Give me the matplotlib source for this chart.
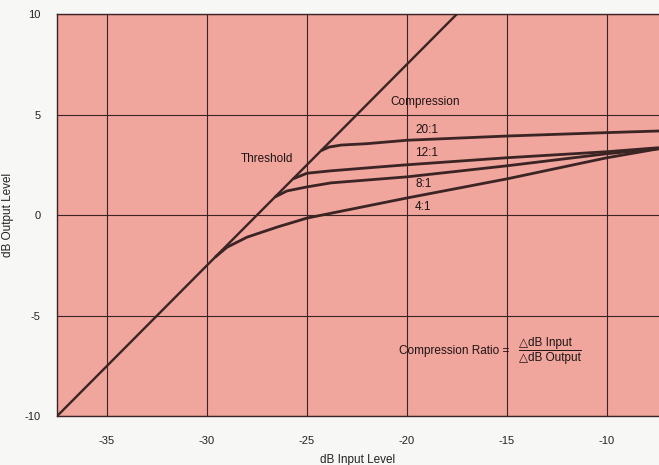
import matplotlib
matplotlib.use('Agg')
import matplotlib.pyplot as plt

plt.rcParams['font.family'] = ['Liberation Sans', 'DejaVu Sans']
plt.rcParams['axes.unicode_minus'] = False

BG = '#f0a59d'
INK = '#3a2424'
TXT = '#1e1414'

# straight 1:1 line (below threshold)
unity_x = [-37.5, -17.5]
unity_y = [-10.0, 10.0]

# compression curves
ratio_4_x = [-29.6, -29.0, -28.0, -26.5, -25.0, -20.0, -15.0, -10.0, -7.4]
ratio_4_y = [-2.1, -1.6, -1.1, -0.6, -0.15, 0.85, 1.8, 2.85, 3.3]
ratio_8_x = [-26.6, -26.0, -25.0, -23.8, -20.0, -15.0, -10.0, -7.4]
ratio_8_y = [0.9, 1.2, 1.4, 1.6, 1.9, 2.45, 3.05, 3.3]
ratio_12_x = [-25.7, -25.0, -23.8, -21.3, -20.0, -15.0, -10.0, -7.4]
ratio_12_y = [1.8, 2.08, 2.2, 2.4, 2.5, 2.85, 3.15, 3.35]
ratio_20_x = [-24.3, -23.9, -23.3, -22.0, -20.0, -15.0, -10.0, -7.4]
ratio_20_y = [3.2, 3.38, 3.48, 3.55, 3.72, 3.93, 4.1, 4.18]

ratio_labels = ['20:1', '12:1', '8:1', '4:1']
ratio_label_y = [4.25, 3.1, 1.55, 0.4]

x_ticks = [-35, -30, -25, -20, -15, -10]
y_ticks = [-10, -5, 0, 5, 10]

fig = plt.figure(figsize=(6.59, 4.65), dpi=100)
ax = fig.add_axes([0.0865, 0.105, 0.9135, 0.865])
ax.set_facecolor(BG)

ax.plot(unity_x, unity_y, color=INK, lw=1.7, solid_capstyle='butt')
for xs, ys in [(ratio_4_x, ratio_4_y), (ratio_8_x, ratio_8_y),
               (ratio_12_x, ratio_12_y), (ratio_20_x, ratio_20_y)]:
    ax.plot(xs, ys, color=INK, lw=2.0, solid_joinstyle='round',
            solid_capstyle='butt')

ax.set_xlim(-37.5, -7.4)
ax.set_ylim(-10, 10)
ax.set_xticks(x_ticks)
ax.set_yticks(y_ticks)
ax.grid(True, color=INK, lw=0.8)
ax.set_axisbelow(True)
ax.tick_params(length=0, labelsize=8, colors='#222222')
ax.tick_params(axis='x', pad=14)
ax.tick_params(axis='y', pad=12)
for s in ax.spines.values():
    s.set_color(INK)
    s.set_linewidth(1.0)
ax.spines['right'].set_visible(False)

ax.set_xlabel('dB Input Level', fontsize=8.5, color='#222222')
ax.xaxis.set_label_coords(0.5, -0.095)
ax.set_ylabel('dB Output Level', fontsize=8.5, color='#222222')
ax.yaxis.set_label_coords(-0.072, 0.5)

txt = dict(fontsize=8.5, color=TXT)
ax.text(-27.0, 2.8, 'Threshold', ha='center', va='center', **txt)
ax.text(-19.1, 5.6, 'Compression', ha='center', va='center', **txt)
for lab, yy in zip(ratio_labels, ratio_label_y):
    ax.text(-19.6, yy, lab, ha='left', va='center', **txt)

ax.text(-20.4, -6.75, 'Compression Ratio =', ha='left', va='center', **txt)
ax.text(-14.4, -6.35, '\u25b3dB Input', ha='left', va='center', **txt)
ax.text(-14.4, -7.1, '\u25b3dB Output', ha='left', va='center', **txt)
ax.plot([-14.4, -11.3], [-6.7, -6.7], color=TXT, lw=0.7)

fig.savefig('out.png', dpi=100, facecolor='#f7f7f5')
